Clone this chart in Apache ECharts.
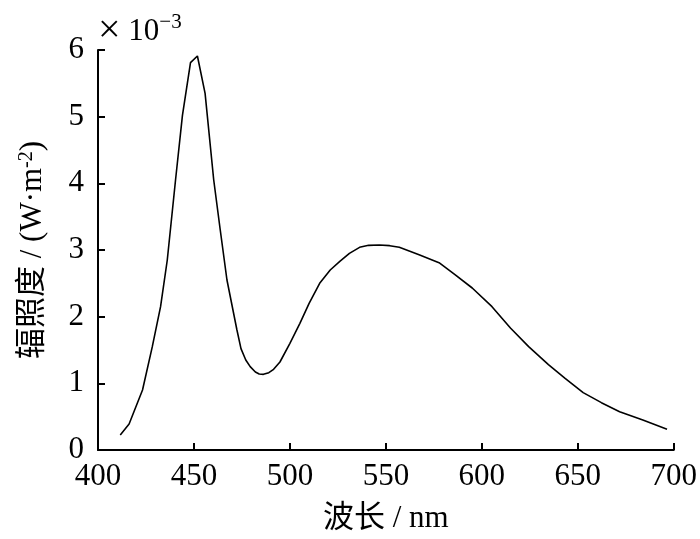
<!DOCTYPE html>
<html>
<head>
<meta charset="utf-8">
<script src="https://cdn.jsdelivr.net/npm/echarts@6/dist/echarts.min.js"></script>
<style>
  html, body { margin: 0; padding: 0; background: #fff; }
  #chart { width: 700px; height: 539px; }
</style>
</head>
<body>
<div id="chart"></div>
<script>
// 波长 (nm)
var wavelength = [411.6, 416.2, 423.2, 428.3, 432.6, 436.1, 440.4, 444, 448.2, 451.8,
  455.8, 460.3, 463.7, 467.2, 472.4, 474.5, 477, 479.3, 482, 484,
  486.2, 489, 491.5, 494.8, 500, 505.2, 510, 515.5, 521, 526,
  531, 536.3, 541, 546.6, 552, 557, 567.3, 577.7, 586, 595,
  605.3, 614.9, 624.4, 634.7, 643.4, 652.8, 662.3, 671.8, 683.9, 696.5];
// 辐照度 (x10^-3 W·m^-2)
var irradiance = [0.225, 0.39, 0.9, 1.55, 2.15, 2.85, 4.05, 5.02, 5.81, 5.91,
  5.35, 4.05, 3.3, 2.55, 1.8, 1.52, 1.35, 1.25, 1.17, 1.14,
  1.135, 1.16, 1.21, 1.32, 1.6, 1.9, 2.2, 2.5, 2.7, 2.83,
  2.95, 3.04, 3.07, 3.075, 3.065, 3.04, 2.93, 2.81, 2.63, 2.43,
  2.15, 1.83, 1.55, 1.28, 1.075, 0.86, 0.71, 0.575, 0.45, 0.31];
var xTicks = [400, 450, 500, 550, 600, 650, 700];
var yTicks = [0, 1, 2, 3, 4, 5, 6];

var seriesData = wavelength.map(function (w, i) { return [w, irradiance[i]]; });

var FONT = '"Liberation Serif", "Noto Sans CJK SC", serif';

var myChart = echarts.init(document.getElementById('chart'));

var option = {
  animation: false,
  grid: { left: 98, right: 24, top: 50, bottom: 89 },
  graphic: [{
    type: 'text',
    left: 98,
    top: 12,
    style: {
      text: '{times|×} 10{sup|−3}',
      fontSize: 31,
      fontFamily: FONT,
      fill: '#000',
      rich: {
        times: { fontSize: 40, fontFamily: FONT, verticalAlign: 'middle', fill: '#000' },
        sup: { fontSize: 21, fontFamily: FONT, verticalAlign: 'top', fill: '#000' }
      }
    }
  }],
  xAxis: {
    type: 'value',
    min: xTicks[0],
    max: xTicks[xTicks.length - 1],
    interval: 50,
    name: '波长 / nm',
    nameLocation: 'middle',
    nameGap: 53,
    nameTextStyle: { fontFamily: FONT, fontSize: 31, color: '#000' },
    axisLine: { lineStyle: { color: '#000', width: 2 } },
    axisTick: { inside: true, length: 7, lineStyle: { color: '#000', width: 2 } },
    axisLabel: { fontFamily: FONT, fontSize: 31, color: '#000', margin: 11 },
    splitLine: { show: false }
  },
  yAxis: {
    type: 'value',
    min: yTicks[0],
    max: yTicks[yTicks.length - 1],
    interval: 1,
    name: '辐照度 / (W·m{sup|-2})',
    nameLocation: 'middle',
    nameRotate: 90,
    nameGap: 50,
    nameTextStyle: {
      fontFamily: FONT, fontSize: 31, color: '#000',
      rich: { sup: { fontSize: 20, fontFamily: FONT, verticalAlign: 'top', color: '#000' } }
    },
    axisLine: { show: true, lineStyle: { color: '#000', width: 2 } },
    axisTick: { show: true, inside: true, length: 7, lineStyle: { color: '#000', width: 2 } },
    axisLabel: { fontFamily: FONT, fontSize: 31, color: '#000', margin: 14 },
    splitLine: { show: false }
  },
  series: [{
    type: 'line',
    data: seriesData,
    showSymbol: false,
    smooth: false,
    lineStyle: { color: '#000', width: 1.6 }
  }]
};

myChart.setOption(option);
</script>
</body>
</html>
